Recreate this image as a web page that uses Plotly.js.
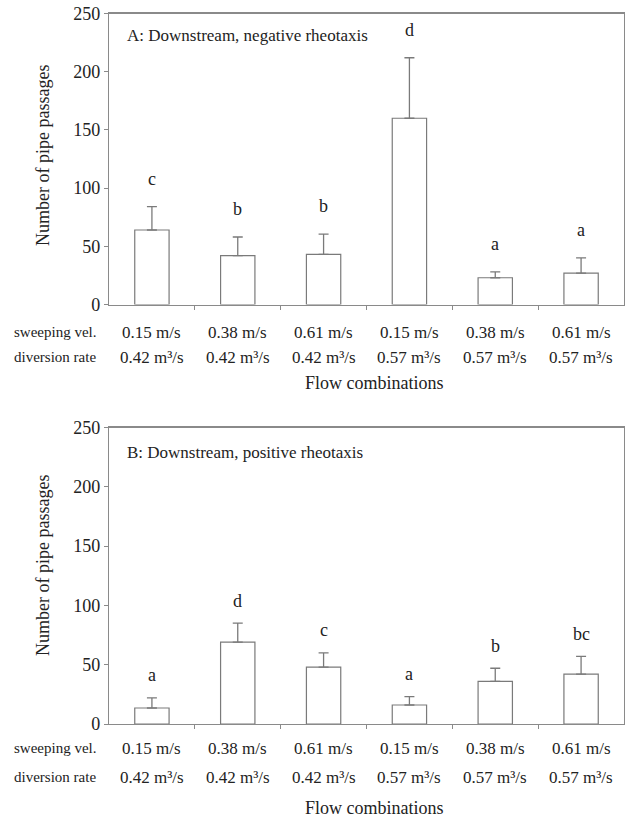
<!DOCTYPE html>
<html>
<head>
<meta charset="utf-8">
<script src="https://cdn.plot.ly/plotly-3.0.1.min.js"></script>
<style>html,body{margin:0;padding:0;background:#fff;}#chart{width:626px;height:818px;}</style>
</head>
<body>
<div id="chart"></div>
<script>
// Data
const sweepLabels = ["0.15 m/s", "0.38 m/s", "0.61 m/s", "0.15 m/s", "0.38 m/s", "0.61 m/s"];
const diversionLabels = ["0.42 m³/s", "0.42 m³/s", "0.42 m³/s", "0.57 m³/s", "0.57 m³/s", "0.57 m³/s"];
const meansA = [64, 42, 43, 160, 23, 27];
const errA = [20, 16, 17.5, 52, 5, 13];
const lettersA = ["c", "b", "b", "d", "a", "a"];
const meansB = [13.5, 69, 48, 16, 36, 42];
const errB = [8.5, 16, 12, 7, 11, 15];
const lettersB = ["a", "d", "c", "a", "b", "bc"];
const titleA = "A: Downstream, negative rheotaxis";
const titleB = "B: Downstream, positive rheotaxis";
const yTitle = "Number of pipe passages";
const xTitle = "Flow combinations";

const W = 626, H = 818;
const FONT = "Liberation Serif";
const TXT = "#222";
const GRAY = "#8a8a8a";
const idx = sweepLabels.map((_, i) => i);
const py = p => 1 - p / H;

function barTrace(vals, errs, xa, ya) {
  return {
    type: "bar", x: idx, y: vals, xaxis: xa, yaxis: ya, width: 0.4,
    marker: {color: "#ffffff", line: {color: "#7a7a7a", width: 1.2}},
    error_y: {type: "data", symmetric: false, array: errs, arrayminus: errs.map(() => 0),
              color: "#7a7a7a", thickness: 1.3, width: 5},
    showlegend: false, hoverinfo: "skip"
  };
}

const data = [barTrace(meansA, errA, "x", "y"), barTrace(meansB, errB, "x2", "y2")];

function xAxis(anchor) {
  return {
    domain: [109 / W, 624 / W], range: [-0.5, 5.5], anchor: anchor,
    tickvals: [0.5, 1.5, 2.5, 3.5, 4.5], ticks: "outside", ticklen: 4, tickcolor: GRAY,
    showticklabels: false, showgrid: false, zeroline: false,
    showline: true, linecolor: GRAY, linewidth: 1.2, mirror: true, fixedrange: true
  };
}
function yAxis(anchor, top, bottom) {
  return {
    domain: [py(bottom), py(top)], range: [0, 250], anchor: anchor,
    tickvals: [0, 50, 100, 150, 200, 250], ticks: "outside", ticklen: 4, tickcolor: GRAY,
    tickfont: {family: FONT, size: 18, color: TXT},
    showgrid: false, zeroline: false, showline: true, linecolor: GRAY, linewidth: 1.2,
    mirror: true, fixedrange: true
  };
}

const ann = [];
function panelAnn(xref, yref, vals, errs, letters, offset, title, titleY, row1, row2, xtY, ytY) {
  ann.push({xref: "paper", yref: "paper", x: 125 / W, y: py(titleY), xanchor: "left", yanchor: "middle",
            text: title, showarrow: false, font: {family: FONT, size: 17, color: TXT}});
  vals.forEach((v, i) => {
    ann.push({xref: xref, yref: yref, x: i, y: v + errs[i] + offset, text: letters[i],
              showarrow: false, yanchor: "middle", font: {family: FONT, size: 18, color: TXT}});
    ann.push({xref: xref, yref: "paper", x: i, y: py(row1), text: sweepLabels[i], showarrow: false,
              yanchor: "middle", font: {family: FONT, size: 17, color: TXT}});
    ann.push({xref: xref, yref: "paper", x: i, y: py(row2), text: diversionLabels[i], showarrow: false,
              yanchor: "middle", font: {family: FONT, size: 17, color: TXT}});
  });
  ann.push({xref: "paper", yref: "paper", x: 12 / W, y: py(row1), xanchor: "left", yanchor: "middle",
            text: "sweeping vel.", showarrow: false, font: {family: FONT, size: 15, color: TXT}});
  ann.push({xref: "paper", yref: "paper", x: 12 / W, y: py(row2), xanchor: "left", yanchor: "middle",
            text: "diversion rate", showarrow: false, font: {family: FONT, size: 15, color: TXT}});
  ann.push({xref: "paper", yref: "paper", x: 374 / W, y: py(xtY), xanchor: "center", yanchor: "middle",
            text: xTitle, showarrow: false, font: {family: FONT, size: 18, color: TXT}});
  ann.push({xref: "paper", yref: "paper", x: 43 / W, y: py(ytY), xanchor: "center", yanchor: "middle",
            text: yTitle, textangle: -90, showarrow: false, font: {family: FONT, size: 18, color: TXT}});
}
panelAnn("x", "y", meansA, errA, lettersA, 24, titleA, 36, 332, 357, 383, 156);
panelAnn("x2", "y2", meansB, errB, lettersB, 19, titleB, 452, 748, 777, 808, 566);

const layout = {
  width: W, height: H, margin: {l: 0, r: 0, t: 0, b: 0},
  paper_bgcolor: "#fff", plot_bgcolor: "#fff",
  font: {family: FONT},
  xaxis: xAxis("y"), yaxis: yAxis("x", 13.5, 304.5),
  xaxis2: xAxis("y2"), yaxis2: yAxis("x2", 427.5, 724),
  annotations: ann, showlegend: false, bargap: 0
};
Plotly.newPlot("chart", data, layout, {staticPlot: true, displayModeBar: false});
</script>
</body>
</html>
